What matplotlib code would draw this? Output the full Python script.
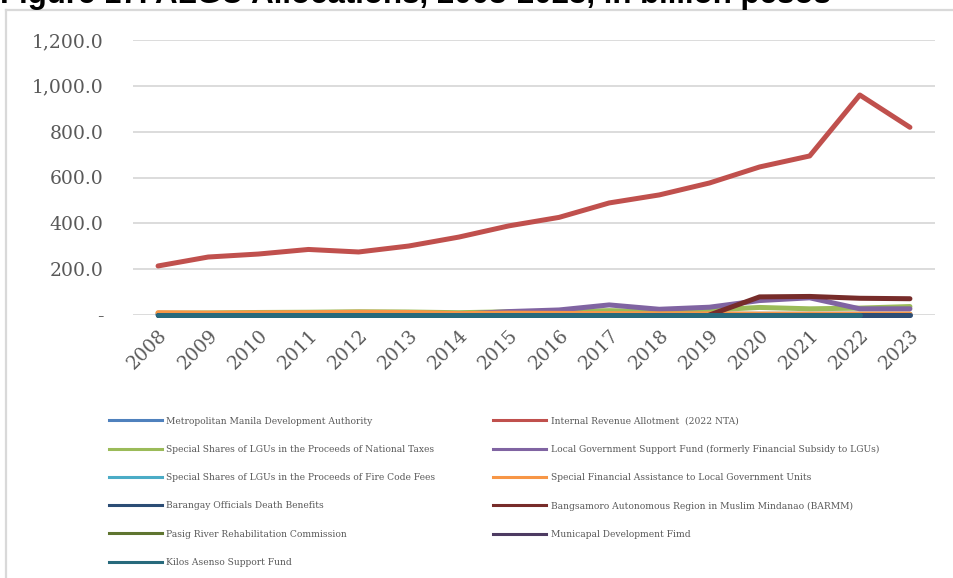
"""
ALGU allocations line chart, 2008-2023 (billion pesos).
"""

import matplotlib
matplotlib.use("Agg")
import matplotlib.pyplot as plt
import matplotlib.ticker as mticker
from matplotlib.lines import Line2D
import numpy as np

nan = np.nan

# ── Data ─────────────────────────────────────────────────────────────────────
years = [str(y) for y in range(2008, 2024)]

mmda      = [1.2, 1.3, 1.5, 1.5, 1.8, 2.0, 2.1, 2.3, 2.5, 2.6, 2.8, 3.0, 3.0, 3.0, 3.5, 3.5]
ira       = [214, 253, 266, 286, 275, 301, 340, 389, 426, 489, 524, 576, 646, 694, 960, 819]
ss_taxes  = [8, 9, 11, 12, 14, 13, 10, 14, 15, 19, 15, 22, 33, 27, 30, 37]
lgsf      = [2, 3, 3, 3, 3, 3, 3, 15, 22, 44, 25, 34, 63, 75, 27, 27]
ss_fire   = [0.5, 0.6, 0.7, 0.8, 0.9, 1.0, 1.0, 1.1, 1.2, 1.3, 1.4, 1.5, 1.5, 1.6, 1.7, 1.8]
sfa       = [10, 8, 9, 10, 12, 11, 6, 8, 7, 6, 5, 5, 4, 4, 4, 4]
brgy      = [0.05, 0.05, 0.05, 0.05, 0.05, 0.05, 0.05, 0.05, 0.05, 0.05, 0.05, 0.05, 0.05, 0.05, 0.05, 0.05]
barmm     = [nan, nan, nan, nan, nan, nan, nan, nan, nan, nan, nan, 0, 79, 81, 73, 71]
pasig     = [0.1, 0.1, 0.1, 0.1, 0.1, 0.1, 0.1, 0.1, 0.1, 0.1, 0.1, 0.1, 0.1, 0.1, nan, nan]
mdf       = [0.0, 0.0, 0.0, 0.0, 0.0, 0.0, 0.0, 0.0, 0.0, 0.0, 0.0, 0.0, 0.0, 0.0, nan, nan]
kilos     = [0.0, 0.0, 0.0, 0.0, 0.0, 0.0, 0.0, 0.0, 0.0, 0.0, 0.0, 0.0, 0.0, 0.0, 0.0, nan]

series_labels = [
    "Metropolitan Manila Development Authority",
    "Internal Revenue Allotment  (2022 NTA)",
    "Special Shares of LGUs in the Proceeds of National Taxes",
    "Local Government Support Fund (formerly Financial Subsidy to LGUs)",
    "Special Shares of LGUs in the Proceeds of Fire Code Fees",
    "Special Financial Assistance to Local Government Units",
    "Barangay Officials Death Benefits",
    "Bangsamoro Autonomous Region in Muslim Mindanao (BARMM)",
    "Pasig River Rehabilitation Commission",
    "Municapal Development Fimd",
    "Kilos Asenso Support Fund",
]
series_values = [mmda, ira, ss_taxes, lgsf, ss_fire, sfa, brgy, barmm, pasig, mdf, kilos]
series_colors = ["#4F81BD", "#C0504D", "#9BBB59", "#8064A2", "#4BACC6", "#F79646",
                 "#2C4D75", "#772C2A", "#5F7530", "#4D3B62", "#276A7C"]

TITLE = "Figure 17. ALGU Allocations, 2008-2023, in billion pesos"
GRID_COLOR = "#D9D9D9"
TEXT_COLOR = "#595959"

# ── Figure ───────────────────────────────────────────────────────────────────
fig = plt.figure(figsize=(9.54, 5.78), dpi=100)
ax = fig.add_axes([133 / 954, 1 - 315 / 578, (935 - 133) / 954, (315 - 40) / 578])

x = np.arange(len(years))
for vals, col in zip(series_values, series_colors):
    ax.plot(x, vals, color=col, linewidth=3.6, solid_capstyle="round",
            solid_joinstyle="round", clip_on=False)

ax.set_xlim(-0.5, len(years) - 0.5)
ax.set_ylim(0, 1200)
ax.set_yticks(np.arange(0, 1201, 200))
ax.yaxis.set_major_formatter(mticker.FuncFormatter(
    lambda v, p: "-" if v == 0 else f"{v:,.1f}"))
ax.set_xticks(x)
ax.set_xticklabels(years, rotation=45, ha="right", rotation_mode="anchor")

for s in ax.spines.values():
    s.set_visible(False)
ax.grid(axis="y", color=GRID_COLOR, linewidth=1.3)
ax.set_axisbelow(True)
ax.tick_params(axis="both", length=0, colors=TEXT_COLOR, labelsize=13.5)
ax.tick_params(axis="y", pad=21.5)
ax.tick_params(axis="x", pad=8)
for lab in ax.get_xticklabels() + ax.get_yticklabels():
    lab.set_family("DejaVu Serif")

# legend: two columns, row-wise order
order = list(range(0, len(series_labels), 2)) + list(range(1, len(series_labels), 2))
handles = [Line2D([0], [0], color=series_colors[i], linewidth=2.2) for i in order]
labels = [series_labels[i] for i in order]
fig.legend(handles, labels, ncol=2, loc="upper left",
           bbox_to_anchor=(105 / 954, 1 - 413 / 578), frameon=False,
           prop={"family": "DejaVu Serif", "size": 6.6},
           labelcolor=TEXT_COLOR, handlelength=5.8, handletextpad=0.5,
           labelspacing=2.1, columnspacing=6.25, borderaxespad=0)

# outer frame (cropped) and title, cropped at the top as in the source
fig.add_artist(Line2D([6 / 954, 6 / 954], [0, 1 - 10 / 578], color=GRID_COLOR,
                      linewidth=1.6, transform=fig.transFigure))
fig.add_artist(Line2D([6 / 954, 1], [1 - 10 / 578, 1 - 10 / 578], color=GRID_COLOR,
                      linewidth=1.6, transform=fig.transFigure))
fig.text(0, 1 - 3.5 / 578, TITLE, family="Liberation Sans", weight="bold",
         fontsize=22.5, va="baseline", ha="left", color="black")

fig.savefig("out.png", dpi=100)
plt.close(fig)
